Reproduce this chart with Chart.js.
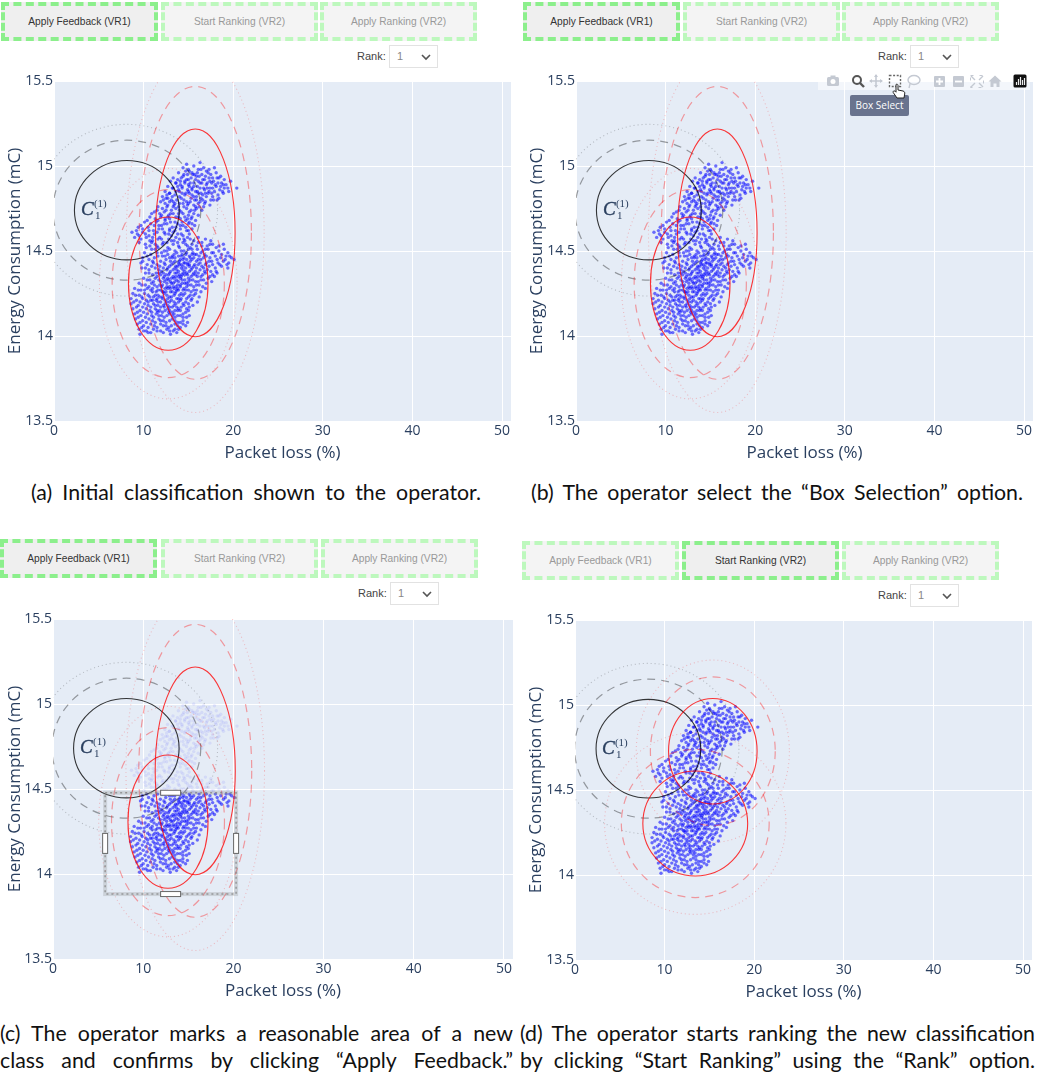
<!DOCTYPE html>
<html>
<head>
<meta charset="utf-8">
<title>Operator feedback and ranking</title>
<script src="https://cdn.jsdelivr.net/npm/chart.js@4"></script>
<style>
    html, body { margin: 0; padding: 0; background: #fff; }
    #page { position: relative; width: 1040px; height: 1075px; overflow: hidden; }
    canvas { position: absolute; }
    .btn {
        position: absolute; box-sizing: border-box; height: 39px; width: 157px;
        border: 4px dashed #bdf8bd; background: #f4f4f4; color: #999;
        font: 10.2px "Liberation Sans", sans-serif; text-align: center; line-height: 31px;
    }
    .btn.active { border-color: #8cef8c; background: #efefef; color: #333; }
    .rank-label { position: absolute; font: 11px "Liberation Sans", sans-serif; color: #444; }
    .rank-select {
        position: absolute; box-sizing: border-box; width: 49px; height: 23px;
        border: 1px solid #e2e2e2; background: #fff; color: #888;
        font: 11px "Liberation Sans", sans-serif; line-height: 21px; padding-left: 7px;
    }
    .rank-select svg { position: absolute; right: 6px; top: 8px; }
    .caption {
        position: absolute; font: 21.3px Lato, sans-serif; color: #111;
        text-align: justify; text-align-last: justify; line-height: 24px;
    }
    #toolbar { position: absolute; left: 818px; top: 73px; width: 212px; height: 17px; background: rgba(255,255,255,.55); }
    #toolbar svg { position: absolute; top: 0; }
    #tip {
        position: absolute; left: 850px; top: 95px; width: 59px; height: 21px; border-radius: 2px;
        background: #69738e; color: #fff; font: 10px "Open Sans", sans-serif; text-align: center; line-height: 21px;
    }
</style>
</head>
<body>
<div id="page"></div>
<script>
// Axis ticks
const packetLossTicks = [0, 10, 20, 30, 40, 50];
const energyTicks = [13.5, 14, 14.5, 15, 15.5];

// Button and caption text
const buttonLabels = ['Apply Feedback (VR1)', 'Start Ranking (VR2)', 'Apply Ranking (VR2)'];
const captionsA = ['(a) Initial classification shown to the operator.'];
const captionsB = ['(b) The operator select the “Box Selection” option.'];
const captionsC = ['(c) The operator marks a reasonable area of a new', 'class and confirms by clicking “Apply Feedback.”'];
const captionsD = ['(d) The operator starts ranking the new classification', 'by clicking “Start Ranking” using the “Rank” option.'];

// Classes drawn as ellipses: centre x, centre y, radius x, radius y (data units)
const knownClass = [8.13, 14.74, 5.85, 0.292];
const upperClass = [15.77, 14.607, 4.44, 0.611];
const lowerClass = [12.75, 14.308, 4.44, 0.392];
const knownClassRanked = [8.19, 14.743, 5.84, 0.29];
const upperClassRanked = [15.38, 14.728, 4.94, 0.31];
const lowerClassRanked = [13.42, 14.303, 5.85, 0.309];
const contourLevels = [1, 1.41, 1.73];

// Area the operator marks in panel (c): x from, x to, y from, y to
const selectionBox = [5.78, 20.3, 14.478, 13.882];

const measurements = [
    [16.3,15.02],[14.8,15.01],
    [14.4,14.99],[15.0,14.98],[15.6,15.00],[16.1,14.98],[16.7,14.99],[17.3,14.98],[17.9,14.99],
    [13.9,14.96],[14.5,14.95],[15.1,14.97],[15.5,14.95],[16.0,14.96],[16.5,14.95],[17.0,14.97],[17.5,14.95],[18.1,14.96],[18.6,14.94],
    [13.3,14.93],[13.8,14.92],[14.4,14.94],[14.8,14.92],[15.3,14.93],[15.8,14.92],[16.2,14.94],[16.8,14.92],[17.3,14.93],[17.8,14.91],[18.4,14.93],[19.0,14.92],
    [13.0,14.91],[13.6,14.90],[14.1,14.89],[14.6,14.91],[15.0,14.89],[15.6,14.90],[16.0,14.88],[16.5,14.90],[17.0,14.89],[17.6,14.90],[18.1,14.88],[18.7,14.90],[19.2,14.89],[19.7,14.91],[20.4,14.87],
    [12.7,14.88],[13.3,14.87],[13.9,14.86],[14.3,14.88],[14.9,14.86],[15.4,14.87],[15.8,14.85],[16.3,14.87],[16.8,14.86],[17.4,14.87],[17.9,14.85],[18.5,14.86],[19.0,14.87],[19.5,14.85],
    [12.4,14.85],[12.9,14.84],[13.5,14.83],[14.0,14.85],[14.6,14.83],[15.1,14.84],[15.6,14.82],[16.1,14.84],[16.6,14.83],[17.2,14.84],[17.7,14.82],[18.3,14.83],[18.9,14.84],
    [12.1,14.82],[12.7,14.81],[13.2,14.82],[13.7,14.80],[14.2,14.81],[14.8,14.79],[15.3,14.81],[15.9,14.80],[16.4,14.81],[16.9,14.79],[17.5,14.80],[18.2,14.80],
    [11.9,14.79],[12.4,14.78],[12.9,14.79],[13.4,14.77],[14.0,14.78],[14.5,14.76],[15.0,14.78],[15.6,14.77],[16.1,14.78],[16.7,14.76],[17.4,14.77],
    [11.6,14.76],[12.1,14.75],[12.6,14.76],[13.1,14.74],[13.6,14.75],[14.2,14.73],[14.8,14.75],[15.3,14.74],[15.9,14.75],[16.5,14.74],
    [11.2,14.73],[11.8,14.72],[12.3,14.73],[12.8,14.71],[13.3,14.72],[13.9,14.70],[14.4,14.72],[15.0,14.71],[15.6,14.72],[16.1,14.71],
    [10.7,14.70],[11.3,14.69],[11.9,14.70],[12.4,14.68],[12.9,14.69],[13.5,14.67],[14.1,14.69],[14.7,14.68],[15.3,14.69],[15.8,14.68],
    [10.1,14.67],[10.8,14.66],[11.4,14.67],[12.0,14.65],[12.6,14.66],[13.2,14.64],[13.8,14.66],[14.4,14.65],[15.0,14.66],[15.7,14.65],
    [9.4,14.64],[9.9,14.63],[10.5,14.64],[11.1,14.62],[11.7,14.63],[12.3,14.61],[12.9,14.63],[13.5,14.62],[14.1,14.63],[14.8,14.62],[15.4,14.63],
    [8.7,14.61],[9.3,14.60],[9.9,14.61],[10.6,14.59],[11.2,14.60],[11.8,14.58],[12.4,14.60],[13.1,14.59],[13.8,14.60],[14.4,14.59],[15.1,14.60],
    [9.0,14.58],[9.7,14.57],[10.3,14.58],[11.0,14.56],[11.6,14.57],[12.2,14.55],[12.8,14.57],[13.4,14.56],[14.0,14.57],[14.6,14.56],[15.2,14.57],[16.1,14.58],[16.9,14.57],[17.5,14.56],
    [9.5,14.55],[10.2,14.54],[10.9,14.55],[11.5,14.53],[12.1,14.54],[12.7,14.52],[13.3,14.54],[13.9,14.53],[14.4,14.55],[14.9,14.53],[15.4,14.54],[15.9,14.53],[16.5,14.55],[17.1,14.53],[17.7,14.54],[18.4,14.53],[18.9,14.54],
    [10.3,14.52],[10.9,14.51],[11.6,14.52],[12.3,14.50],[12.9,14.51],[13.5,14.50],[14.0,14.52],[14.5,14.50],[15.0,14.51],[15.5,14.49],[16.0,14.51],[16.6,14.50],[17.2,14.51],[17.8,14.49],[18.4,14.50],[19.0,14.51],[19.4,14.49],
    [10.1,14.49],[10.8,14.48],[11.5,14.49],[12.1,14.47],[12.7,14.48],[13.2,14.47],[13.7,14.49],[14.2,14.47],[14.7,14.48],[15.2,14.46],[15.7,14.48],[16.2,14.47],[16.8,14.48],[17.4,14.46],[18.0,14.47],[18.6,14.46],[19.2,14.47],[19.8,14.46],
    [9.9,14.46],[10.6,14.45],[11.2,14.46],[11.9,14.44],[12.5,14.45],[13.0,14.44],[13.5,14.46],[14.0,14.44],[14.4,14.45],[14.9,14.43],[15.4,14.45],[15.9,14.44],[16.4,14.45],[17.0,14.43],[17.6,14.44],[18.3,14.43],[18.9,14.44],[19.5,14.43],[20.1,14.45],
    [9.7,14.43],[10.4,14.42],[11.1,14.43],[11.8,14.41],[12.4,14.42],[12.9,14.41],[13.3,14.43],[13.8,14.41],[14.2,14.42],[14.7,14.40],[15.1,14.42],[15.6,14.41],[16.1,14.42],[16.7,14.40],[17.3,14.41],[18.0,14.40],[18.7,14.41],[19.3,14.42],
    [9.8,14.40],[10.6,14.39],[11.3,14.40],[12.0,14.38],[12.6,14.39],[13.0,14.38],[13.5,14.40],[13.9,14.38],[14.4,14.39],[14.8,14.37],[15.3,14.39],[15.8,14.38],[16.3,14.39],[16.9,14.37],[17.5,14.38],[18.2,14.37],
    [10.2,14.37],[11.0,14.36],[11.7,14.37],[12.3,14.35],[12.8,14.36],[13.3,14.35],[13.7,14.37],[14.2,14.35],[14.6,14.36],[15.0,14.34],[15.5,14.36],[16.0,14.35],[16.6,14.36],[17.2,14.34],[17.9,14.35],
    [10.0,14.34],[10.7,14.33],[11.3,14.34],[11.9,14.32],[12.5,14.33],[13.0,14.32],[13.4,14.34],[13.9,14.32],[14.3,14.33],[14.8,14.31],[15.2,14.33],[15.8,14.32],[16.4,14.33],[17.0,14.31],[17.6,14.32],
    [9.5,14.31],[10.2,14.30],[10.9,14.31],[11.5,14.29],[12.1,14.30],[12.6,14.29],[13.1,14.31],[13.6,14.29],[14.1,14.30],[14.5,14.28],[15.0,14.30],[15.6,14.29],[16.2,14.30],[16.9,14.28],
    [9.0,14.28],[9.7,14.27],[10.4,14.28],[11.0,14.26],[11.6,14.27],[12.2,14.26],[12.7,14.28],[13.2,14.26],[13.7,14.27],[14.2,14.25],[14.7,14.27],[15.3,14.26],[15.9,14.27],[16.4,14.26],
    [8.8,14.25],[9.5,14.24],[10.1,14.25],[10.7,14.23],[11.3,14.24],[11.8,14.23],[12.3,14.25],[12.9,14.23],[13.4,14.24],[13.9,14.22],[14.4,14.24],[15.0,14.23],[15.6,14.24],[16.2,14.23],
    [8.6,14.22],[9.2,14.21],[9.9,14.22],[10.5,14.20],[11.0,14.21],[11.6,14.20],[12.1,14.22],[12.6,14.20],[13.1,14.21],[13.6,14.19],[14.1,14.21],[14.7,14.20],[15.3,14.21],[16.0,14.20],
    [8.6,14.19],[9.4,14.18],[10.1,14.19],[10.8,14.17],[11.3,14.18],[11.9,14.17],[12.4,14.19],[12.9,14.17],[13.4,14.18],[13.9,14.16],[14.5,14.18],[15.1,14.17],[15.5,14.18],
    [8.8,14.16],[9.6,14.15],[10.3,14.16],[10.9,14.14],[11.5,14.15],[12.1,14.14],[12.7,14.16],[13.2,14.14],[13.8,14.15],[14.4,14.13],[15.0,14.15],
    [9.0,14.13],[9.7,14.12],[10.4,14.13],[11.1,14.11],[11.7,14.12],[12.3,14.11],[12.9,14.13],[13.5,14.11],[14.1,14.12],[14.8,14.11],[15.1,14.12],
    [9.1,14.10],[9.9,14.09],[10.6,14.10],[11.3,14.08],[11.9,14.09],[12.5,14.08],[13.2,14.10],[13.8,14.08],[14.4,14.09],[14.9,14.08],
    [9.3,14.07],[10.0,14.06],[10.8,14.07],[11.5,14.05],[12.2,14.06],[12.8,14.05],[13.5,14.07],[14.1,14.05],[14.7,14.06],
    [9.5,14.04],[10.3,14.03],[11.1,14.04],[11.9,14.03],[12.6,14.04],[13.3,14.03],[13.9,14.04],
    [9.6,14.01],[10.5,14.02],[13.0,14.01],[13.7,14.02]
];

// Second pass over the same cloud, filling the gaps and the dense centres
const measurementsDense = [
    // upper right lobe
    [14.7,14.97],[16.4,14.98],[15.4,14.96],[17.2,14.96],[16.9,14.94],[14.2,14.93],[15.9,14.94],[18.2,14.93],[13.6,14.90],[15.2,14.90],
    [16.6,14.92],[17.7,14.93],[18.9,14.89],[14.6,14.90],[16.1,14.91],[17.1,14.90],[19.4,14.87],[13.2,14.87],[14.3,14.87],[15.6,14.88],
    [16.7,14.87],[18.3,14.90],[12.9,14.84],[15.0,14.85],[17.7,14.87],[18.8,14.85],[16.0,14.85],[13.6,14.85],[14.7,14.84],[16.4,14.84],
    [17.3,14.85],[18.4,14.81],[12.6,14.83],[14.0,14.82],[15.4,14.83],[15.9,14.82],[17.0,14.82],[13.1,14.80],[14.5,14.80],[16.3,14.79],
    [17.8,14.80],[15.2,14.79],[12.2,14.80],[13.9,14.76],[15.8,14.76],[14.4,14.78],[12.7,14.77],[16.8,14.78],[16.2,14.76],[13.3,14.79],
    [15.0,14.92],[15.7,14.95],[16.3,14.90],[14.9,14.95],[17.4,14.91],[18.0,14.89],[14.1,14.91],[15.4,14.86],[16.9,14.84],[18.6,14.88],
    [17.6,14.84],[14.3,14.84],[15.7,14.80],[16.6,14.80],[13.5,14.78],[14.9,14.77],[12.5,14.81],[13.8,14.88],[15.1,14.88],[17.1,14.87],
    // band running down to the left
    [11.5,14.74],[12.5,14.74],[13.3,14.76],[14.0,14.74],[15.1,14.73],[15.7,14.74],[10.9,14.72],[12.0,14.71],[13.0,14.72],[14.6,14.70],
    [15.4,14.70],[11.6,14.68],[12.7,14.70],[13.6,14.70],[14.3,14.67],[15.1,14.67],[10.4,14.68],[11.2,14.65],[12.3,14.66],[13.0,14.67],
    [13.6,14.64],[14.7,14.64],[15.4,14.66],[9.7,14.65],[10.6,14.62],[11.5,14.61],[12.1,14.63],[12.8,14.60],[13.3,14.61],[14.2,14.60],
    [15.0,14.62],[9.2,14.62],[10.2,14.60],[11.0,14.58],[12.0,14.57],[12.6,14.55],[13.6,14.58],[14.5,14.57],[9.5,14.59],[10.7,14.56],
    [11.3,14.54],[13.1,14.56],[13.8,14.55],[14.9,14.58],[12.4,14.69],[11.7,14.65],[13.9,14.72],[14.9,14.69],[14.1,14.65],[12.9,14.62],
    // lower right lobe
    [15.6,14.56],[16.5,14.53],[17.4,14.54],[18.1,14.52],[14.7,14.54],[15.2,14.52],[16.1,14.55],[16.9,14.51],[17.6,14.49],[18.7,14.48],
    [19.6,14.47],[14.2,14.50],[14.8,14.49],[15.4,14.51],[15.9,14.48],[16.4,14.49],[17.0,14.47],[18.2,14.45],[19.1,14.45],[13.4,14.48],
    [13.9,14.47],[14.5,14.46],[15.1,14.47],[15.6,14.46],[16.1,14.45],[16.7,14.46],[17.3,14.44],[18.5,14.42],[19.4,14.40],[12.9,14.46],
    [13.5,14.44],[14.1,14.45],[14.6,14.43],[15.2,14.44],[15.7,14.42],[16.3,14.43],[16.9,14.42],[17.7,14.42],[12.3,14.43],[13.1,14.42],
    [13.6,14.41],[14.0,14.42],[14.4,14.41],[14.9,14.42],[15.4,14.40],[15.9,14.40],[16.5,14.41],[17.1,14.39],[18.1,14.38],[12.7,14.40],
    [13.3,14.39],[13.7,14.39],[14.2,14.40],[14.6,14.38],[15.1,14.38],[15.6,14.37],[16.1,14.37],[16.8,14.38],[17.7,14.36],[12.2,14.37],
    [12.9,14.37],[13.5,14.37],[14.0,14.36],[14.4,14.37],[14.9,14.36],[15.3,14.35],[15.8,14.36],[16.4,14.35],[17.4,14.35],[13.2,14.46],
    [11.6,14.47],[11.0,14.44],[10.4,14.47],[12.0,14.49],[12.6,14.50],[11.3,14.51],[10.7,14.53],[12.4,14.47],[11.5,14.42],[10.2,14.40],
    [10.9,14.41],[11.7,14.39],[12.2,14.40],[10.6,14.37],[11.4,14.37],[9.9,14.44],[11.9,14.36],[12.5,14.36],
    // lower left lobe
    [13.1,14.34],[13.7,14.33],[14.1,14.34],[14.6,14.33],[15.0,14.32],[15.5,14.33],[16.1,14.32],[16.7,14.33],[10.4,14.33],[11.1,14.32],
    [11.7,14.33],[12.3,14.32],[12.8,14.33],[13.3,14.31],[13.8,14.30],[14.3,14.31],[14.8,14.29],[15.3,14.30],[15.9,14.30],[16.6,14.29],
    [9.8,14.30],[10.6,14.29],[11.2,14.30],[11.8,14.30],[12.4,14.28],[12.9,14.29],[13.4,14.28],[13.9,14.27],[14.4,14.27],[15.0,14.27],
    [15.6,14.27],[9.4,14.27],[10.1,14.27],[10.8,14.27],[11.4,14.26],[11.9,14.27],[12.5,14.26],[13.0,14.26],[13.5,14.25],[14.0,14.24],
    [14.6,14.25],[15.2,14.24],[15.8,14.25],[9.1,14.24],[9.8,14.23],[10.5,14.24],[11.1,14.23],[11.6,14.24],[12.1,14.23],[12.6,14.24],
    [13.1,14.23],[13.7,14.22],[14.2,14.22],[14.8,14.22],[15.4,14.22],[8.9,14.20],[9.6,14.20],[10.3,14.21],[10.8,14.21],[11.4,14.21],
    [11.9,14.20],[12.4,14.21],[12.9,14.20],[13.4,14.20],[13.9,14.20],[14.4,14.19],[15.0,14.19],[9.2,14.17],[9.9,14.17],[10.5,14.18],
    [11.1,14.19],[11.6,14.18],[12.2,14.18],[12.7,14.18],[13.2,14.17],[13.7,14.17],[14.2,14.17],[14.8,14.16],[9.3,14.14],[10.0,14.14],
    [10.7,14.15],[11.3,14.16],[11.8,14.15],[12.4,14.15],[12.9,14.15],[13.5,14.15],[14.1,14.15],[14.7,14.14],[9.4,14.11],[10.2,14.11],
    [10.9,14.12],[11.4,14.13],[12.0,14.12],[12.6,14.12],[13.2,14.12],[13.8,14.12],[14.4,14.11],[9.6,14.08],[10.3,14.08],[11.0,14.09],
    [11.7,14.10],[12.2,14.09],[12.9,14.09],[13.5,14.09],[14.1,14.08],[9.8,14.05],[10.5,14.05],[11.2,14.06],[11.9,14.07],[12.5,14.06],
    [13.1,14.06],[13.8,14.06],[14.4,14.07],[10.0,14.03],[10.8,14.02],[11.5,14.03],[12.2,14.02],[12.9,14.03],[13.5,14.04],
    [12.1,14.26],[12.7,14.22],[13.3,14.29],[11.5,14.22],[12.3,14.17],[13.0,14.28],[13.6,14.26],[14.1,14.29],[12.0,14.29],[11.0,14.28],
    [12.8,14.14],[11.6,14.14],[13.4,14.13],[14.6,14.31],[13.5,14.32],[12.6,14.31],[14.3,14.36],[13.9,14.35],[15.1,14.41],[14.5,14.43],
    [14.8,14.45],[13.9,14.43],[14.3,14.48],[15.4,14.48],[13.6,14.35],[12.7,14.34],[12.2,14.34],[11.5,14.35],[13.8,14.28]
];

// Where each panel sits on the page
const panels = [
    { left: 0, plotLeft: 54, plotRight: 510, plotTop: 81, plotBottom: 421, classes: [knownClass, upperClass, lowerClass],
      buttonLefts: [1, 161, 320], buttonTop: 2, activeButton: 0, rankLeft: 357, selectLeft: 389, rankTop: 45,
      captions: captionsA, captionLeft: 31, captionWidth: 450, captionTop: 480 },
    { left: 522, plotLeft: 576, plotRight: 1032, plotTop: 81, plotBottom: 421, classes: [knownClass, upperClass, lowerClass],
      buttonLefts: [523, 683, 842], buttonTop: 2, activeButton: 0, rankLeft: 878, selectLeft: 910, rankTop: 45,
      captions: captionsB, captionLeft: 531, captionWidth: 492, captionTop: 480 },
    { left: 0, plotLeft: 53, plotRight: 512, plotTop: 619, plotBottom: 959, classes: [knownClass, upperClass, lowerClass],
      buttonLefts: [0, 161, 321], buttonTop: 539, activeButton: 0, rankLeft: 358, selectLeft: 390, rankTop: 582,
      captions: captionsC, captionLeft: 0, captionWidth: 513, captionTop: 1021, box: selectionBox },
    { left: 521, plotLeft: 575, plotRight: 1031, plotTop: 620, plotBottom: 960, classes: [knownClassRanked, upperClassRanked, lowerClassRanked],
      buttonLefts: [522, 682, 842], buttonTop: 541, activeButton: 1, rankLeft: 878, selectLeft: 910, rankTop: 584,
      captions: captionsD, captionLeft: 520, captionWidth: 515, captionTop: 1021 }
];

const page = document.getElementById('page');
const axisColor = '#2a3f5f';

// Ellipses, the class label and the selection box go on top of the points
const overlayPlugin = {
    id: 'overlay',
    beforeDraw: function(chart) {
        const area = chart.chartArea;
        chart.ctx.fillStyle = '#e5ecf6';
        chart.ctx.fillRect(area.left, area.top, area.width, area.height);
    },
    afterDatasetsDraw: function(chart, args, opts) {
        const ctx = chart.ctx;
        const area = chart.chartArea;
        const xs = chart.scales.x;
        const ys = chart.scales.y;

        ctx.save();
        ctx.beginPath();
        ctx.rect(area.left, area.top, area.width, area.height);
        ctx.clip();

        // solid, dashed and dotted contour of each class
        const styles = [
            { dash: [], alpha: 0.78, width: 1.1 },
            { dash: [8, 6], alpha: 0.36, width: 1.2 },
            { dash: [1, 3], alpha: 0.22, width: 1.1 }
        ];
        opts.classes.forEach(function(cls, i) {
            const rgb = i === 0 ? '0,0,0' : '255,0,0';
            contourLevels.forEach(function(level, l) {
                const cx = xs.getPixelForValue(cls[0]);
                const cy = ys.getPixelForValue(cls[1]);
                const rx = Math.abs(xs.getPixelForValue(cls[0] + cls[2] * level) - cx);
                const ry = Math.abs(ys.getPixelForValue(cls[1] + cls[3] * level) - cy);
                ctx.beginPath();
                ctx.ellipse(cx, cy, rx, ry, 0, 0, Math.PI * 2);
                ctx.setLineDash(styles[l].dash);
                ctx.lineWidth = styles[l].width;
                ctx.strokeStyle = 'rgba(' + rgb + ',' + styles[l].alpha + ')';
                ctx.stroke();
            });
        });
        ctx.setLineDash([]);

        // class label
        const lx = xs.getPixelForValue(3.0);
        const ly = ys.getPixelForValue(14.74);
        ctx.fillStyle = axisColor;
        ctx.textBaseline = 'alphabetic';
        ctx.textAlign = 'left';
        ctx.font = 'italic 19px "Liberation Serif", serif';
        ctx.strokeStyle = axisColor;
        ctx.lineWidth = 0.4;
        ctx.fillText('C', lx, ly + 5);
        ctx.strokeText('C', lx, ly + 5);
        ctx.font = '11px "Liberation Serif", serif';
        ctx.fillText('(1)', lx + 13, ly - 3);
        ctx.fillText('1', lx + 14, ly + 9);
        ctx.restore();

        if (opts.box) drawSelection(chart, opts.box);
    }
};

function drawSelection(chart, box) {
    const ctx = chart.ctx;
    const x0 = chart.scales.x.getPixelForValue(box[0]);
    const x1 = chart.scales.x.getPixelForValue(box[1]);
    const y0 = chart.scales.y.getPixelForValue(box[2]);
    const y1 = chart.scales.y.getPixelForValue(box[3]);
    ctx.save();
    ctx.strokeStyle = 'rgba(130,130,130,.25)';
    ctx.lineWidth = 4;
    ctx.strokeRect(x0, y0, x1 - x0, y1 - y0);
    ctx.strokeStyle = 'rgba(130,130,130,.75)';
    ctx.lineWidth = 1.5;
    ctx.setLineDash([2, 3]);
    ctx.strokeRect(x0, y0, x1 - x0, y1 - y0);
    ctx.setLineDash([]);

    // resize handles
    const mx = (x0 + x1) / 2;
    const my = (y0 + y1) / 2;
    const handles = [[mx - 10, y0 - 2.5, 20, 5], [mx - 10, y1 - 2.5, 20, 5], [x0 - 2.5, my - 10, 5, 20], [x1 - 2.5, my - 10, 5, 20]];
    ctx.fillStyle = '#fff';
    ctx.strokeStyle = '#666';
    ctx.lineWidth = 1;
    handles.forEach(function(h) {
        ctx.fillRect(h[0], h[1], h[2], h[3]);
        ctx.strokeRect(h[0], h[1], h[2], h[3]);
    });
    ctx.restore();
}

function createPanelChart(panel) {
    const canvas = document.createElement('canvas');
    const marginTop = 12;
    canvas.width = panel.plotRight - panel.left + 3;
    canvas.height = panel.plotBottom - panel.plotTop + marginTop + 46;
    canvas.style.left = panel.left + 'px';
    canvas.style.top = (panel.plotTop - marginTop) + 'px';
    page.appendChild(canvas);

    const axisWidth = panel.plotLeft - panel.left;
    const box = panel.box;
    const tickFont = { family: '"Open Sans"', size: 14 };
    const titleFont = { family: '"Open Sans"', size: 17 };
    const cloud = measurements.concat(measurementsDense);

    new Chart(canvas, {
        type: 'scatter',
        data: {
            datasets: [{
                data: cloud.map(function(m) { return { x: m[0], y: m[1] }; }),
                pointRadius: 1.7,
                pointBorderWidth: 0,
                // outside the marked area the points fade out in panel (c)
                pointBackgroundColor: function(c) {
                    if (box && c.raw && c.raw.y > box[2]) return 'rgba(60,60,255,.1)';
                    return 'rgba(0,0,255,.55)';
                }
            }]
        },
        options: {
            responsive: false,
            animation: false,
            layout: { autoPadding: false, padding: { top: marginTop, right: 2, left: 0, bottom: 0 } },
            plugins: {
                legend: { display: false },
                tooltip: { enabled: false },
                overlay: { classes: panel.classes, box: box }
            },
            scales: {
                x: {
                    type: 'linear', min: 0, max: 51,
                    afterBuildTicks: function(s) { s.ticks = packetLossTicks.map(function(v) { return { value: v }; }); },
                    afterFit: function(s) { s.height = 46; },
                    grid: { color: '#fff', lineWidth: 1, drawTicks: false },
                    border: { display: false },
                    ticks: { color: axisColor, font: tickFont, padding: 2, maxRotation: 0, callback: function(v) { return String(v); } },
                    title: { display: true, text: 'Packet loss (%)', color: axisColor, font: titleFont }
                },
                y: {
                    type: 'linear', min: 13.5, max: 15.5,
                    afterBuildTicks: function(s) { s.ticks = energyTicks.map(function(v) { return { value: v }; }); },
                    afterFit: function(s) { s.width = axisWidth; },
                    grid: { color: '#fff', lineWidth: 1, drawTicks: false },
                    border: { display: false },
                    ticks: { color: axisColor, font: tickFont, padding: 1, callback: function(v) { return String(v); } },
                    title: { display: true, text: 'Energy Consumption (mC)', color: axisColor, font: titleFont, padding: { top: 5, bottom: 4 } }
                }
            }
        },
        plugins: [overlayPlugin]
    });
}

function addControls(panel) {
    buttonLabels.forEach(function(label, i) {
        const b = document.createElement('div');
        b.className = 'btn' + (i === panel.activeButton ? ' active' : '');
        b.style.left = panel.buttonLefts[i] + 'px';
        b.style.top = panel.buttonTop + 'px';
        b.textContent = label;
        page.appendChild(b);
    });

    const rank = document.createElement('div');
    rank.className = 'rank-label';
    rank.style.left = panel.rankLeft + 'px';
    rank.style.top = (panel.rankTop + 5) + 'px';
    rank.textContent = 'Rank:';
    page.appendChild(rank);

    const select = document.createElement('div');
    select.className = 'rank-select';
    select.style.left = panel.selectLeft + 'px';
    select.style.top = panel.rankTop + 'px';
    select.innerHTML = '1<svg width="10" height="7" viewBox="0 0 10 7"><path d="M1 1 L5 5 L9 1" fill="none" stroke="#555" stroke-width="1.6"/></svg>';
    page.appendChild(select);

    panel.captions.forEach(function(text, i) {
        const c = document.createElement('div');
        c.className = 'caption';
        c.style.left = panel.captionLeft + 'px';
        c.style.top = (panel.captionTop + i * 27) + 'px';
        c.style.width = panel.captionWidth + 'px';
        c.textContent = text;
        page.appendChild(c);
    });
}

panels.forEach(function(panel) {
    createPanelChart(panel);
    addControls(panel);
});

// Modebar of panel (b), with the pointer on "Box Select"
function icon(x, width, body) {
    return '<svg style="left:' + x + 'px" width="' + width + '" height="17" viewBox="0 0 ' + width + ' 17">' + body + '</svg>';
}
const grey = '#c4c9d2';
const toolbar = document.createElement('div');
toolbar.id = 'toolbar';
toolbar.innerHTML =
    icon(8, 14, '<rect x="1" y="4" width="12" height="9" rx="1.5" fill="' + grey + '"/><rect x="4.5" y="2.5" width="5" height="3" fill="' + grey + '"/><circle cx="7" cy="8.5" r="2.5" fill="#fff"/>') +
    icon(33, 14, '<circle cx="6" cy="7" r="4" fill="none" stroke="#555" stroke-width="2"/><line x1="9" y1="10" x2="13" y2="14" stroke="#555" stroke-width="2.4"/>') +
    icon(51, 14, '<path d="M7 2 V14 M1 8 H13" stroke="' + grey + '" stroke-width="1.6"/><path d="M7 1 L5 4 H9 Z M7 15 L5 12 H9 Z M0 8 L3 6 V10 Z M14 8 L11 6 V10 Z" fill="' + grey + '"/>') +
    icon(70, 14, '<rect x="1.5" y="2.5" width="11" height="11" fill="none" stroke="#666" stroke-width="1.4" stroke-dasharray="2 1.6"/>') +
    icon(89, 14, '<ellipse cx="7" cy="7" rx="6" ry="4.5" fill="none" stroke="' + grey + '" stroke-width="1.4"/><path d="M3 11 L2 15" stroke="' + grey + '" stroke-width="1.4"/>') +
    icon(115, 13, '<rect x="1" y="3" width="11" height="11" rx="1" fill="' + grey + '"/><path d="M6.5 5 V12 M3 8.5 H10" stroke="#fff" stroke-width="1.8"/>') +
    icon(134, 13, '<rect x="1" y="3" width="11" height="11" rx="1" fill="' + grey + '"/><path d="M3 8.5 H10" stroke="#fff" stroke-width="1.8"/>') +
    icon(152, 14, '<path d="M1 3 L5 7 M13 3 L9 7 M1 14 L5 10 M13 14 L9 10" stroke="' + grey + '" stroke-width="1.4"/><rect x="0.5" y="2.5" width="13" height="12" fill="none" stroke="' + grey + '" stroke-width="1" stroke-dasharray="3 6"/>') +
    icon(170, 14, '<path d="M7 2.5 L13.5 8.5 H11.5 V14 H8.5 V10.5 H5.5 V14 H2.5 V8.5 H0.5 Z" fill="' + grey + '"/>') +
    icon(195, 14, '<rect x="0.5" y="1.5" width="13" height="13" rx="1.5" fill="#111"/><path d="M3.5 12 V9 M5.5 12 V6 M7.5 12 V4 M9.5 12 V7 M11.5 12 V5" stroke="#eee" stroke-width="1.2"/>');
page.appendChild(toolbar);

const tip = document.createElement('div');
tip.id = 'tip';
tip.textContent = 'Box Select';
page.appendChild(tip);

const pointer = document.createElementNS('http://www.w3.org/2000/svg', 'svg');
pointer.setAttribute('width', '14');
pointer.setAttribute('height', '16');
pointer.setAttribute('viewBox', '0 0 14 16');
pointer.style.cssText = 'position:absolute;left:892px;top:83px';
pointer.innerHTML = '<path d="M4 1.5 C5 .8 6 1.3 6 2.5 V7 L11 8 C12.5 8.5 13 9.3 12.7 11 L12 15 H5 L1.2 9.5 C.6 8.4 2 7.3 3 8.2 L4 9.2 Z" fill="#fff" stroke="#222" stroke-width="1"/>';
page.appendChild(pointer);
</script>
</body>
</html>
